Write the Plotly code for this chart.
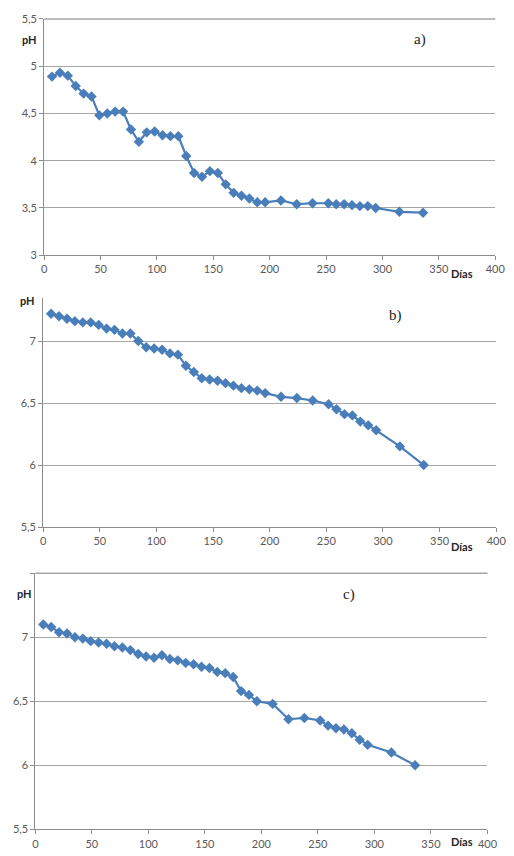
import plotly.graph_objects as go

# The page body has an 8px default margin, so the figure is drawn 8px in from the
# top-left corner of the 514x856 window.
OFF = 8
W, H = 514 - OFF, 856 - OFF

days_a = [7, 14, 21, 28, 35, 42, 49, 56, 63, 70, 77, 84, 91, 98, 105, 112, 119, 126, 133, 140,
          147, 154, 161, 168, 175, 182, 189, 196, 210, 224, 238, 252, 259, 266, 273, 280, 287, 294, 315, 336]
ph_a = [4.89, 4.93, 4.90, 4.79, 4.71, 4.68, 4.48, 4.50, 4.52, 4.52, 4.33, 4.20, 4.30, 4.31, 4.27, 4.26, 4.26, 4.05, 3.87, 3.83,
        3.89, 3.87, 3.75, 3.66, 3.63, 3.60, 3.56, 3.56, 3.58, 3.54, 3.55, 3.55, 3.54, 3.54, 3.53, 3.52, 3.52, 3.50, 3.46, 3.45]

days_b = days_a
ph_b = [7.22, 7.20, 7.18, 7.16, 7.15, 7.15, 7.13, 7.10, 7.09, 7.06, 7.06, 7.00, 6.95, 6.94, 6.93, 6.90, 6.89, 6.80, 6.75, 6.70,
        6.69, 6.68, 6.66, 6.64, 6.62, 6.61, 6.60, 6.58, 6.55, 6.54, 6.52, 6.49, 6.45, 6.41, 6.40, 6.35, 6.32, 6.28, 6.15, 6.00]

days_c = days_a
ph_c = [7.10, 7.08, 7.04, 7.03, 7.00, 6.99, 6.97, 6.96, 6.95, 6.93, 6.92, 6.90, 6.87, 6.85, 6.84, 6.86, 6.83, 6.82, 6.80, 6.79,
        6.77, 6.76, 6.73, 6.72, 6.69, 6.58, 6.55, 6.50, 6.48, 6.36, 6.37, 6.35, 6.31, 6.29, 6.28, 6.25, 6.20, 6.16, 6.10, 6.00]

x_ticks = [0, 50, 100, 150, 200, 250, 300, 350, 400]
x_ticktext = ["0", "50", "100", "150", "200", "250", "300", "350", "400"]

y_ticks_a = [3, 3.5, 4, 4.5, 5, 5.5]
y_text_a = ["3", "3,5", "4", "4,5", "5", "5,5"]
y_ticks_b = [5.5, 6, 6.5, 7]
y_text_b = ["5,5", "6", "6,5", "7"]
y_ticks_c = [5.5, 6, 6.5, 7, 7.5]
y_text_c = ["5,5", "6", "6,5", "7", ""]

BLUE = "#4A7EBB"
GRID = "#A6A6A6"
AXIS = "#8C8C8C"
TICKFONT = dict(family="Lato, Open Sans, sans-serif", size=11, color="#595959")


def px_x(p):
    return (p - OFF) / W


def px_y(p):
    return 1 - (p - OFF) / H


fig = go.Figure()

panels = [
    (days_a, ph_a, "x", "y"),
    (days_b, ph_b, "x2", "y2"),
    (days_c, ph_c, "x3", "y3"),
]
for d, v, xa, ya in panels:
    fig.add_trace(go.Scatter(
        x=d, y=v, xaxis=xa, yaxis=ya, mode="lines+markers",
        line=dict(color=BLUE, width=2.2),
        marker=dict(symbol="diamond", size=8, color=BLUE),
        showlegend=False, hoverinfo="x+y",
    ))


def xaxis(dom, anchor):
    return dict(domain=dom, anchor=anchor, range=[0, 400], tickvals=x_ticks, ticktext=x_ticktext,
                showgrid=False, zeroline=False, showline=True, linecolor=AXIS, linewidth=1,
                ticks="outside", ticklen=4, tickcolor=AXIS, tickfont=TICKFONT, fixedrange=True,
                ticklabeloverflow="allow")


def yaxis(dom, anchor, rng, tv, tt):
    return dict(domain=dom, anchor=anchor, range=rng, tickvals=tv, ticktext=tt,
                showgrid=True, gridcolor=GRID, gridwidth=1, zeroline=False,
                showline=True, linecolor=AXIS, linewidth=1,
                ticks="outside", ticklen=4, tickcolor=AXIS, tickfont=TICKFONT, fixedrange=True,
                ticklabeloverflow="allow")


fig.update_layout(
    width=W, height=H,
    margin=dict(l=0, r=0, t=0, b=0),
    paper_bgcolor="white", plot_bgcolor="white",
    xaxis=xaxis([px_x(42), px_x(505)], "y"),
    yaxis=yaxis([px_y(252), px_y(12)], "x", [3, 5.5], y_ticks_a, y_text_a),
    xaxis2=xaxis([px_x(41), px_x(506)], "y2"),
    yaxis2=yaxis([px_y(528), px_y(295)], "x2", [5.5, 7.35], y_ticks_b, y_text_b),
    xaxis3=xaxis([px_x(33), px_x(497)], "y3"),
    yaxis3=yaxis([px_y(835), px_y(575)], "x3", [5.5, 7.5], y_ticks_c, y_text_c),
)

# top gridlines at the upper edge of panels a) and c)
for x0, x1, yy in [(42, 505, 12), (33, 497, 575)]:
    fig.add_shape(type="line", xref="paper", yref="paper",
                  x0=px_x(x0), x1=px_x(x1), y0=px_y(yy), y1=px_y(yy),
                  line=dict(color=GRID, width=1.5))

LABFONT = dict(family="Lato, Open Sans, sans-serif", size=11, color="#262626")
SERIF = dict(family="Liberation Serif, Times New Roman, serif", size=15, color="#222222")

annots = [
    ("<b>pH</b>", 27, 33, LABFONT),
    ("<b>pH</b>", 25, 298, LABFONT),
    ("<b>pH</b>", 22, 596, LABFONT),
    ("<b>Días</b>", 471, 271, LABFONT),
    ("<b>Días</b>", 471, 548, LABFONT),
    ("<b>Días</b>", 471, 847, LABFONT),
    ("a)", 428, 33, SERIF),
    ("b)", 403, 313, SERIF),
    ("c)", 355, 597, SERIF),
]
for text, x, y, f in annots:
    fig.add_annotation(text=text, x=px_x(x), y=px_y(y), xref="paper", yref="paper",
                       showarrow=False, font=f, xanchor="center", yanchor="middle")

fig.write_html("out.html")
